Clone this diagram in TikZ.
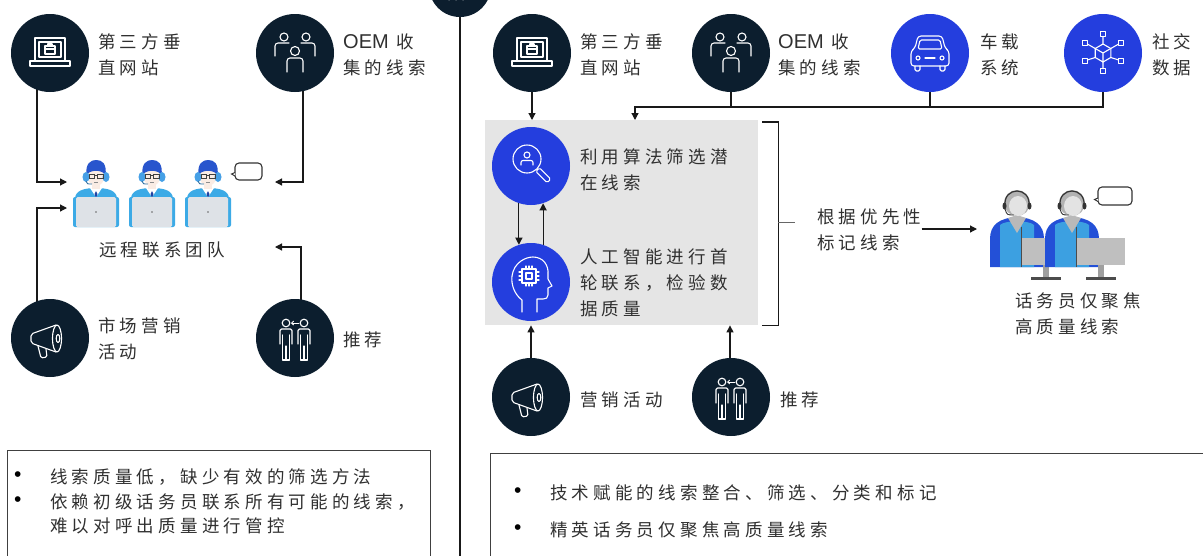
\documentclass[tikz,border=0pt]{standalone}
\usepackage{fontspec}
\usetikzlibrary{arrows.meta,calc}
\newfontfamily\cjk[LetterSpace=24]{Noto Sans CJK SC}
\newfontfamily\latin{Liberation Sans}
\newcommand\oemmark{{\latin\fontsize{20}{26}\selectfont OEM}}

\definecolor{navy}{RGB}{12,30,46}
\definecolor{royal}{RGB}{36,62,222}
\definecolor{panel}{RGB}{229,229,229}
\definecolor{ink}{RGB}{48,48,48}
\definecolor{skin}{RGB}{250,236,228}
\definecolor{hairblue}{RGB}{40,85,205}
\definecolor{shirtblue}{RGB}{60,170,230}
\definecolor{padgray}{RGB}{222,226,231}
\definecolor{cupblue}{RGB}{70,160,230}
\definecolor{sleeve}{RGB}{35,80,215}
\definecolor{vest}{RGB}{60,160,225}

\pgfdeclarelayer{bg}\pgfdeclarelayer{wires}
\pgfsetlayers{bg,wires,main}

\tikzset{
  % white line icons, drawn upright around the circle centre
  site/.pic={\begin{scope}[yscale=-1]
    \draw (-15,-8) rectangle (15,15);
    \draw (-11,-4) rectangle (11,11);
    \draw (-5,-1) rectangle (5,7); \draw (-5,4) -- (5,4);
    \draw (-2,7) -- (-2,9) -- (2,9) -- (2,7);
    \draw (-20,-8) rectangle (20,-13);
  \end{scope}},
  crowd/.pic={\begin{scope}[yscale=-1]
    \draw (-11,16) circle (4); \draw (11,16) circle (4);
    \draw[rounded corners=3pt] (-20,-3) -- (-20,10) -- (-6,10);
    \draw[rounded corners=3pt] (20,-3) -- (20,10) -- (6,10);
    \draw (0,2) circle (4.5);
    \draw[rounded corners=3pt] (-8,-19) -- (-8,-5) -- (8,-5) -- (8,-19);
  \end{scope}},
  horn/.pic={\begin{scope}[yscale=-1]
    \draw[rounded corners=2pt] (6,13) -- (-19,4) -- (-19,-5) -- (6,-14);
    \draw (7,-0.5) ellipse (4.5 and 13.5);
    \draw (8,-0.5) ellipse (1.8 and 4);
    \draw[rounded corners=1.5pt] (-12,-8) -- (-9,-20) -- (-3,-19) -- (-4,-11);
  \end{scope}},
  referral/.pic={\begin{scope}[yscale=-1]
    \foreach \px in {-9,9}{
      \draw (\px,15) circle (3.8);
      \draw[rounded corners=1.5pt] (\px-6,-6) -- (\px-6,9) -- (\px+6,9) -- (\px+6,-6);
      \draw (\px-3.5,3) -- (\px-3.5,-22) -- (\px+3.5,-22) -- (\px+3.5,3);
      \draw (\px,-22) -- (\px,-8);
    }
    \draw[line width=0.9pt, -{Straight Barb[length=2pt,width=4pt]}] (4,15) -- (-4,15);
  \end{scope}},
  car/.pic={\begin{scope}[yscale=-1]
    \draw[rounded corners=3pt] (-19,-13) -- (-19,2) -- (-15,5) -- (-12,17) -- (12,17) -- (15,5) -- (19,2) -- (19,-13) -- cycle;
    \draw[rounded corners=1.5pt] (-12,4) -- (-10,13) -- (10,13) -- (12,4) -- cycle;
    \draw (-12,-5) circle (2); \draw (12,-5) circle (2); \draw (-5,-5) -- (5,-5);
    \draw[rounded corners=1.5pt] (-15,-13) -- (-15,-18) -- (-10,-18) -- (-10,-13);
    \draw[rounded corners=1.5pt] (10,-13) -- (10,-18) -- (15,-18) -- (15,-13);
  \end{scope}},
  network/.pic={\begin{scope}[yscale=-1]
    \draw (90:9) -- (30:9) -- (-30:9) -- (-90:9) -- (-150:9) -- (150:9) -- cycle;
    \draw (0,0) -- (30:9) (0,0) -- (150:9) (0,0) -- (-90:9);
    \foreach \q in {(0,19),(-18,10),(18,10),(-18,-8),(18,-8),(0,-18)}{
      \draw \q ++(-2.3,-2.3) rectangle ++(4.6,4.6);
    }
    \draw (90:9) -- (0,16.7) (150:9) -- (-15.7,9) (30:9) -- (15.7,9);
    \draw (-150:9) -- (-15.7,-7) (-30:9) -- (15.7,-7) (-90:9) -- (0,-15.7);
  \end{scope}},
  lens/.pic={\begin{scope}[yscale=-1]
    \draw (-4,7) circle (14);
    \draw (-4,11) circle (3);
    \draw[rounded corners=2pt] (-10,1) -- (-10,5.5) -- (2,5.5) -- (2,1);
    \begin{scope}[shift={(-4,7)}, rotate=45]
      \draw[rounded corners=1.5pt] (15,-2.5) rectangle (31,2.5);
    \end{scope}
  \end{scope}},
  mind/.pic={\begin{scope}[yscale=-1]
    \draw (-9,-30) -- (-9,-18) .. controls (-17,-12) and (-20,-2) .. (-19,6)
      .. controls (-17,20) and (-5,25) .. (2,25) .. controls (12,25) and (18,17) .. (17,7)
      -- (17,3) -- (21,-4) -- (17,-6) -- (17,-13) .. controls (17,-16) and (15,-17) .. (12,-17)
      -- (6,-17) -- (6,-30);
    \draw (-9,-1) rectangle (5,13);
    \draw (-5,3) rectangle (1,9);
    \foreach \t in {-5,-2,1}{
      \draw (\t,13) -- (\t,16); \draw (\t,-1) -- (\t,-4);
    }
    \foreach \t in {2,6,10}{
      \draw (-9,\t) -- (-12,\t); \draw (5,\t) -- (8,\t);
    }
  \end{scope}},
  % cartoon agent with laptop, origin at the head centre, y pointing down
  agent/.pic={
    \fill[shirtblue] (-21,36) -- (-21,24) .. controls (-21,16) and (-13,13) .. (0,13)
      .. controls (13,13) and (21,16) .. (21,24) -- (21,36) -- cycle;
    \fill[white] (-6,13) -- (0,22) -- (6,13) -- cycle;
    \fill[hairblue!80!black] (0,16) -- (-1.5,19) -- (0,23) -- (1.5,19) -- cycle;
    \fill[skin] (-4,6) rectangle (4,14);
    \fill[skin] (0,1) ellipse (8.5 and 10);
    \fill[hairblue] (-9.5,1) .. controls (-11,-12) and (-5,-15) .. (0,-15)
      .. controls (6,-15) and (11,-12) .. (9.5,1) .. controls (8,-6) and (-8,-6) .. cycle;
    \fill[cupblue] (-10,2) ellipse (3.5 and 5);
    \fill[cupblue] (10,2) ellipse (3.5 and 5);
    \draw[black!75, line width=0.9pt] (-7,-1) rectangle (-1.5,3.5) (1.5,-1) rectangle (7,3.5) (-1.5,0.5) -- (1.5,0.5);
    \draw[black!45, line width=0.6pt] (-2,7.5) -- (2,7.5);
    \draw[cupblue!70!black, line width=0.9pt] (-10,6) .. controls (-9,9) .. (-4,9);
    \fill[shirtblue, rounded corners=2pt] (-23,22) rectangle (23,52);
    \fill[padgray, rounded corners=1.5pt] (-20,22) rectangle (20,52);
    \fill[black!60] (0,37) circle (0.9);
  },
  % call-centre operator with monitor, origin at the head centre, y pointing down
  operator/.pic={
    \fill[sleeve] (-27,64) -- (-27,36) .. controls (-27,22) and (-18,15) .. (0,14)
      .. controls (18,15) and (27,22) .. (27,36) -- (27,64) -- cycle;
    \fill[vest] (-17,64) -- (-17,22) .. controls (-12,17) and (12,17) .. (17,22) -- (17,64) -- cycle;
    \draw[black!70, line width=1pt] (4,24) -- (4,64);
    \fill[gray!55] (-9,15) -- (0,30) -- (9,15) -- (0,12) -- cycle;
    \fill[gray!60] (0,0) circle (13);
    \fill[gray!22] (1,3) ellipse (9 and 10);
    \draw[black!80, line width=1.2pt] (-12,3) .. controls (-14,-17) and (14,-17) .. (12,3);
    \fill[black!80] (-12.5,3) ellipse (2 and 3.5);
    \fill[black!80] (12.5,3) ellipse (2 and 3.5);
    \draw[black!80, line width=0.9pt] (-12,6) .. controls (-10,12) .. (-3,12);
    \fill[gray!50] (5,35) rectangle (53,62);
    \fill[gray!75] (26,62) rectangle (32,74);
    \fill[black!70] (14,74) rectangle (44,77);
  },
}

\begin{document}
\begin{tikzpicture}[x=1pt,y=-1pt,
  dot/.style={circle, minimum size=78pt, inner sep=0pt, fill=navy},
  bdot/.style={dot, fill=royal},
  lbl/.style={anchor=west, align=left, inner sep=0pt, text=ink,
              font=\cjk\fontsize{17.5}{26}\selectfont},
  bul/.style={lbl, text=black, font=\latin\fontsize{21}{24}\selectfont},
  wire/.style={line width=1.2pt, draw=black!90},
  arr/.style={wire, -{Triangle[length=7pt,width=7pt]}},
  glyphline/.style={color=white, line width=1.1pt, line join=round, line cap=round},
  talk/.style={draw=black!80, line width=1.1pt, fill=white, rounded corners=4pt,
               inner sep=0pt},
  note/.style={draw=black!75, line width=1.4pt, inner sep=0pt, anchor=north west},
]
\useasboundingbox (0,0) rectangle (1203,555);
\begin{pgfonlayer}{bg}
  \fill[white] (0,0) rectangle (1203,555);
  \node[fill=panel, minimum width=273pt, minimum height=205pt, inner sep=0pt,
        anchor=north west] (screen) at (485,120) {};
\end{pgfonlayer}

% ---------- left: today's process ----------
\node[dot] (webL) at (50,53) {};
\pic[glyphline] at (webL) {site};
\node[lbl] at (98,55) {第三方垂\\直网站};
\node[dot] (oemL) at (295,53) {};
\pic[glyphline] at (oemL) {crowd};
\node[lbl] at (343,55) {\oemmark{} 收\\集的线索};
\node[dot] (mktL) at (50,338) {};
\pic[glyphline] at (mktL) {horn};
\node[lbl] at (98,339) {市场营销\\活动};
\node[dot] (refL) at (295,338) {};
\pic[glyphline] at (refL) {referral};
\node[lbl] at (343,340) {推荐};

\pic at (96,175) {agent};
\pic at (152,175) {agent};
\pic at (208,175) {agent};
\node[talk, minimum width=27pt, minimum height=17pt] (talkL) at (248.5,171.5) {};
\draw[black!80, line width=1pt, fill=white] ($(talkL.west)+(0.6,1)$) -- ++(-3.5,1.5) -- ++(3.5,2);
\node[lbl, anchor=center] (teamlbl) at (162,250) {远程联系团队};

\coordinate (inA) at (67,182);
\coordinate (inB) at (67,208);
\coordinate (inC) at (275,182);
\coordinate (inD) at (275,247);

\node[note, minimum width=423pt, minimum height=120pt] (noteL) at (7,450) {};
\node[bul] at (14,477) {•};
\node[lbl] at (50,477) {线索质量低，缺少有效的筛选方法};
\node[bul] at (14,502) {•};
\node[lbl, font=\cjk\fontsize{17.5}{24}\selectfont] at (50,513.5) {依赖初级话务员联系所有可能的线索，\\难以对呼出质量进行管控};

% ---------- divider ----------
\node[dot, minimum size=62pt] (hub) at (460,-14) {};
\begin{scope}[glyphline]
  \draw (449,0) -- (452,-5) (456,0) -- (459,-5) (463,0) -- (466,-5);
\end{scope}
\coordinate (hubEnd) at (460,560);

% ---------- right: tech-enabled process ----------
\node[dot] (webR) at (532,53) {};
\pic[glyphline] at (webR) {site};
\node[lbl] at (580,55) {第三方垂\\直网站};
\node[dot] (oemR) at (731,53) {};
\pic[glyphline] at (oemR) {crowd};
\node[lbl] at (778,55) {\oemmark{} 收\\集的线索};
\node[bdot] (carR) at (930,53) {};
\pic[glyphline] at (carR) {car};
\node[lbl] at (980,55) {车载\\系统};
\node[bdot] (socR) at (1103,53) {};
\pic[glyphline] at (socR) {network};
\node[lbl] at (1152,55) {社交\\数据};
\coordinate (busL) at (635,107);

\node[bdot] (find) at (531,166) {};
\pic[glyphline] at (find) {lens};
\node[lbl] at (580,170) {利用算法筛选潜\\在线索};
\node[bdot] (aiR) at (531,282) {};
\pic[glyphline] at (aiR) {mind};
\node[lbl] at (580,283) {人工智能进行首\\轮联系，检验数\\据质量};

\node[dot] (mktR) at (531,397) {};
\pic[glyphline] at (mktR) {horn};
\node[lbl] at (580,400) {营销活动};
\node[dot] (refR) at (731,397) {};
\pic[glyphline] at (refR) {referral};
\node[lbl] at (780,400) {推荐};

\node[lbl] (mark) at (817,230) {根据优先性\\标记线索};
\coordinate (opsIn) at (977,229);
\pic at (1017,203) {operator};
\pic at (1072,203) {operator};
\node[talk, minimum width=34pt, minimum height=18pt] (talkR) at (1115,196) {};
\draw[black!80, line width=1pt, fill=white] ($(talkR.west)+(0.6,2)$) -- ++(-3.5,1.5) -- ++(3.5,2);
\node[lbl] at (1015,314) {话务员仅聚焦\\高质量线索};

\node[note, minimum width=760pt, minimum height=120pt] (noteR) at (490,453) {};
\node[bul] at (514,493) {•};
\node[lbl] at (550,493) {技术赋能的线索整合、筛选、分类和标记};
\node[bul] at (514,530) {•};
\node[lbl] at (550,530) {精英话务员仅聚焦高质量线索};

% ---------- connectors ----------
\begin{pgfonlayer}{wires}
  \draw[arr] ([xshift=-13pt]webL.center) |- (inA);
  \draw[arr] ([xshift=-13pt]mktL.center) |- (inB);
  \draw[arr] ([xshift=8pt]oemL.center) |- (inC);
  \draw[arr] ([xshift=6pt]refL.center) |- (inD);
  \draw[wire] (hub.center) -- (hubEnd);

  \draw[arr] (webR.center) -- (webR.center |- screen.north);
  \draw[arr] (socR.center) |- (busL) -- (busL |- screen.north);
  \draw[wire] (oemR.center) -- (oemR.center |- busL);
  \draw[wire] (carR.center) -- (carR.center |- busL);
  \draw[arr] (find.-108) -- (aiR.108);
  \draw[arr] (aiR.72) -- (find.-72);
  \draw[arr] (mktR.center) -- (mktR.center |- screen.south);
  \draw[arr] ([xshift=-1pt]refR.center) -- ([xshift=-1pt]refR.center |- screen.south);

  \draw[wire] ([xshift=4pt,yshift=-2pt]screen.north east) -- ++(16,0) |- ([xshift=4pt]screen.south east);
  \draw[wire, draw=black!60] ([xshift=20pt]screen.east) -- ++(17,0);
  \draw[arr] (mark.east |- opsIn) -- (opsIn);
\end{pgfonlayer}
\end{tikzpicture}
\end{document}
